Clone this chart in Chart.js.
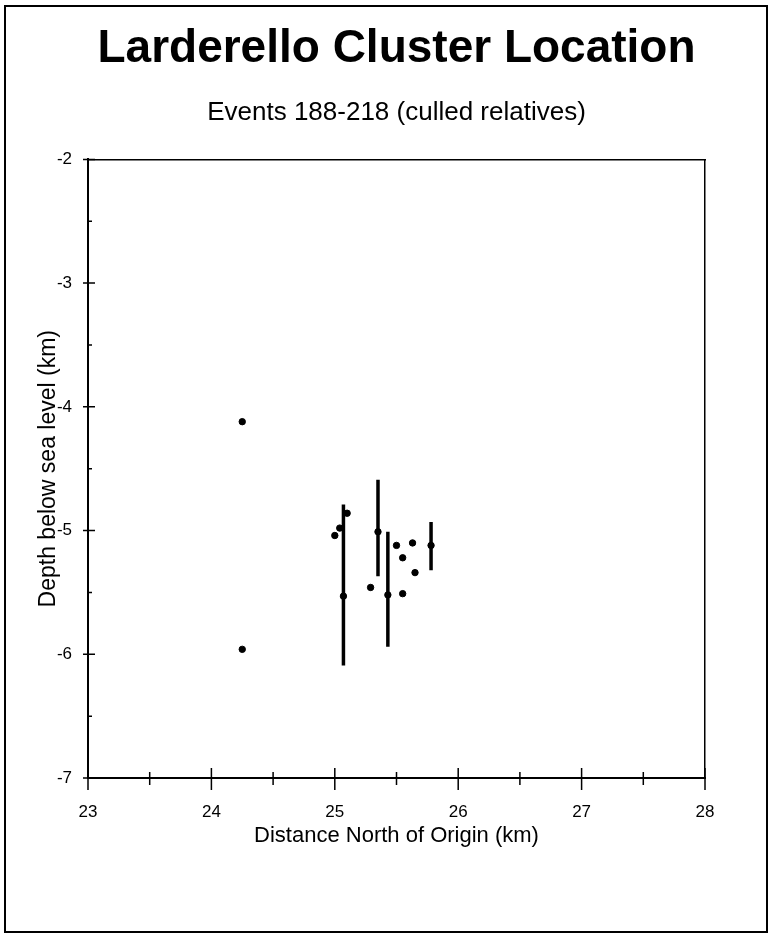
<!DOCTYPE html>
<html>
<head>
<meta charset="utf-8">
<script src="https://cdn.jsdelivr.net/npm/chart.js@4"></script>
<style>
  body { margin: 0; background: #fff; }
  #wrap { position: relative; width: 773px; height: 945px; }
  #frame { position: absolute; left: 4px; top: 5px; width: 764px; height: 928px; border: 2px solid #000; box-sizing: border-box; }
  canvas { position: absolute; left: 0; top: 0; }
</style>
</head>
<body>
<div id="wrap">
  <div id="frame"></div>
  <canvas id="clusterChart" width="773" height="945"></canvas>
</div>
<script>
// event locations (km north of origin, km depth)
const eventNorth = [24.25, 24.25, 25.00, 25.04, 25.10, 25.07, 25.29, 25.35, 25.43, 25.50, 25.55, 25.55, 25.63, 25.65, 25.78];
const eventDepth = [-4.12, -5.96, -5.04, -4.98, -4.86, -5.53, -5.46, -5.01, -5.52, -5.12, -5.22, -5.51, -5.10, -5.34, -5.12];

// vertical error bars
const barNorth = [25.07, 25.35, 25.43, 25.78];
const barTop = [-4.79, -4.59, -5.01, -4.93];
const barBottom = [-6.09, -5.37, -5.94, -5.32];

const xTickLabels = [23, 24, 25, 26, 27, 28];
const yTickLabels = [-2, -3, -4, -5, -6, -7];

const points = eventNorth.map((x, i) => ({ x: x, y: eventDepth[i] }));

const barSegments = [];
barNorth.forEach((x, i) => {
    barSegments.push({ x: x, y: barTop[i] });
    barSegments.push({ x: x, y: barBottom[i] });
    barSegments.push({ x: x, y: null });
});

const font = "'Liberation Sans', Arial, sans-serif";

// tick marks that cross the axis line, longer on whole numbers
const crossTicks = {
    id: 'crossTicks',
    afterDraw(chart) {
        const c = chart.ctx;
        const xs = chart.scales.x, ys = chart.scales.y;
        c.save();
        c.strokeStyle = '#000';
        c.lineWidth = 1.5;
        c.beginPath();
        xs.ticks.forEach(t => {
            const px = xs.getPixelForValue(t.value);
            const major = Number.isInteger(t.value);
            const up = major ? 10 : 6, down = major ? 12 : 7;
            c.moveTo(px, xs.top - up);
            c.lineTo(px, xs.top + down);
        });
        ys.ticks.forEach(t => {
            const py = ys.getPixelForValue(t.value);
            const major = Number.isInteger(t.value);
            const out = major ? 5 : 1, inn = major ? 7 : 4;
            c.moveTo(ys.right - out, py);
            c.lineTo(ys.right + inn, py);
        });
        c.stroke();
        c.restore();
    }
};

const ctx = document.getElementById('clusterChart');

new Chart(ctx, {
    type: 'scatter',
    data: {
        datasets: [
            {
                label: 'errors',
                data: barSegments,
                showLine: true,
                spanGaps: false,
                borderColor: '#000',
                borderWidth: 3.5,
                pointRadius: 0
            },
            {
                label: 'events',
                data: points,
                backgroundColor: '#000',
                borderColor: '#000',
                pointRadius: 3.2
            }
        ]
    },
    options: {
        responsive: false,
        animation: false,
        layout: { padding: { left: 10, right: 68, top: 10, bottom: 96 } },
        plugins: {
            legend: { display: false },
            tooltip: { enabled: false },
            title: {
                display: true,
                fullSize: false,
                text: 'Larderello Cluster Location',
                color: '#000',
                font: { family: font, size: 46, weight: 'bold' },
                padding: { top: 12, bottom: 20 }
            },
            subtitle: {
                display: true,
                fullSize: false,
                text: 'Events 188-218 (culled relatives)',
                color: '#000',
                font: { family: font, size: 26 },
                padding: { top: 0, bottom: 31 }
            }
        },
        scales: {
            x: {
                type: 'linear',
                min: xTickLabels[0],
                max: xTickLabels[xTickLabels.length - 1],
                afterFit: (s) => { s.height = 71; },
                border: { color: '#000', width: 2 },
                grid: { drawOnChartArea: false, drawTicks: false },
                ticks: {
                    stepSize: 0.5,
                    color: '#000',
                    font: { family: font, size: 17 },
                    padding: 24,
                    maxRotation: 0,
                    autoSkip: false,
                    callback: (v) => xTickLabels.includes(v) ? v : ''
                },
                title: {
                    display: true,
                    text: 'Distance North of Origin (km)',
                    color: '#000',
                    font: { family: font, size: 22 },
                    padding: { top: 0, bottom: 0 }
                }
            },
            y: {
                type: 'linear',
                min: yTickLabels[yTickLabels.length - 1],
                max: yTickLabels[0],
                afterFit: (s) => { s.width = 78; },
                border: { color: '#000', width: 2 },
                grid: { drawOnChartArea: false, drawTicks: false },
                ticks: {
                    stepSize: 0.5,
                    color: '#000',
                    font: { family: font, size: 17 },
                    padding: 16,
                    autoSkip: false,
                    callback: (v) => yTickLabels.includes(v) ? v : ''
                },
                title: {
                    display: true,
                    text: 'Depth below sea level (km)',
                    color: '#000',
                    font: { family: font, size: 23 },
                    padding: { top: 25, bottom: 0 }
                }
            },
            x2: {
                type: 'linear',
                position: 'top',
                min: 23, max: 28,
                afterFit: (s) => { s.height = 0; },
                border: { color: '#000', width: 1.5 },
                grid: { display: false },
                ticks: { display: false }
            },
            y2: {
                type: 'linear',
                position: 'right',
                min: -7, max: -2,
                afterFit: (s) => { s.width = 0; },
                border: { color: '#000', width: 1.5 },
                grid: { display: false },
                ticks: { display: false }
            }
        }
    },
    plugins: [crossTicks]
});
</script>
</body>
</html>
